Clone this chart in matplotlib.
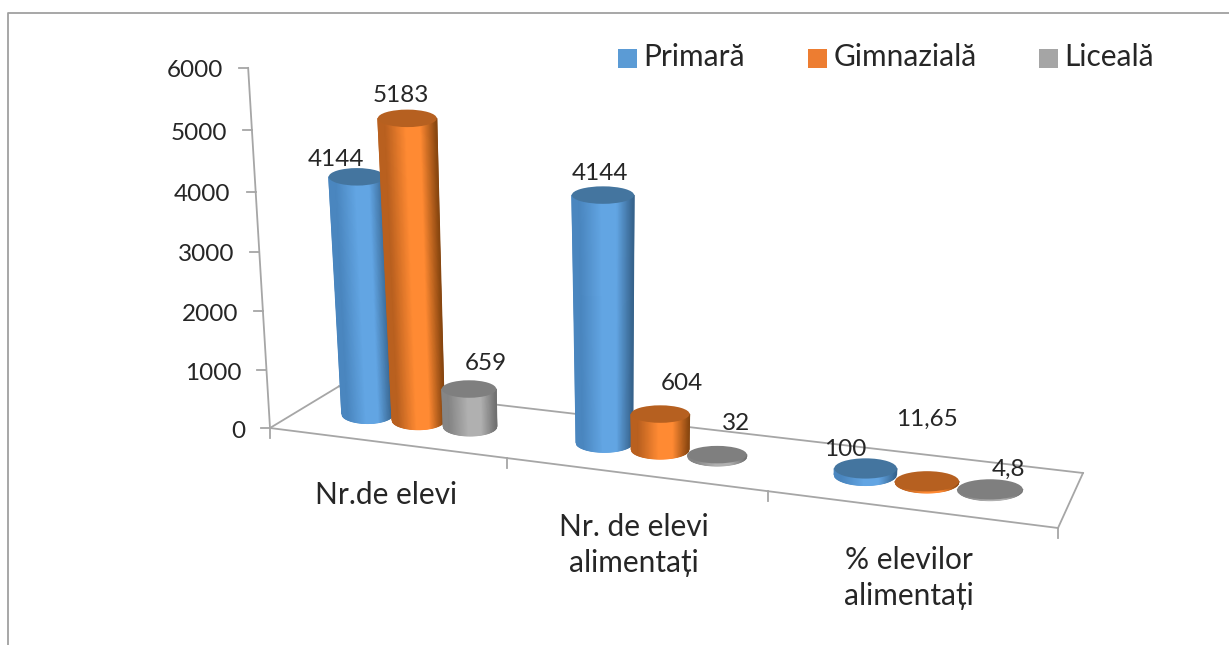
import numpy as np
import matplotlib
matplotlib.use('Agg')
import matplotlib.pyplot as plt
from matplotlib.colors import LinearSegmentedColormap
from matplotlib.patches import Ellipse, Rectangle

# Data
categorii = ['Nr.de elevi', 'Nr. de elevi\nalimentați', '% elevilor\nalimentați']
serii = ['Primară', 'Gimnazială', 'Liceală']
primara = [4144, 4144, 100]
gimnaziala = [5183, 604, 11.65]
liceala = [659, 32, 4.8]
ticks_y = [0, 1000, 2000, 3000, 4000, 5000, 6000]

# Style: left edge, bright, right edge, top cap
culori = [('#4a86bf', '#62a5e3', '#36628b', '#44759f'),
          ('#b9601f', '#ff8a33', '#86450f', '#b66020'),
          ('#858585', '#b0b0b0', '#6f6f6f', '#7f7f7f')]
culori_legenda = ['#5b9bd5', '#ed7d31', '#a5a5a5']
gri = '#a6a6a6'
text_cor = '#262626'
plt.rcParams['font.family'] = ['Lato', 'DejaVu Sans']

# Label centres in pixels, one row per series
pos_etichete = [[(336, 159), (600, 174), (845, 450)],
                [(401, 95), (682, 384), (927, 419)],
                [(486, 364), (736, 423), (1008, 469)]]

# Floor of the 3D box: unit coordinates -> screen pixels
colturi_src = [(0, 0), (3, 0), (3, 1), (0, 1)]
colturi_dst = [(270, 428), (1058, 528), (1083, 473), (339, 386.3)]
A = []
b = []
for (u, v), (x, y) in zip(colturi_src, colturi_dst):
    A.append([u, v, 1, 0, 0, 0, -u * x, -v * x])
    A.append([0, 0, 0, u, v, 1, -u * y, -v * y])
    b += [x, y]
H = np.append(np.linalg.solve(np.array(A, float), np.array(b, float)), 1).reshape(3, 3)


def podea(u, v):
    p = H @ np.array([u, v, 1.0])
    return p[0] / p[2], p[1] / p[2]


def proiectie(u, v, valoare):
    # base on the floor, then go up with a small perspective lean
    x, y = podea(u, v)
    h = (51.7 + 0.0104 * x + 5.8 * (0.5 - v)) * (valoare / 1000) / (1 - 0.00725 * valoare / 1000)
    return x - 1.64e-4 * (640 - x) * h, y - h


def cilindru(ax, u, valoare, cul, zorder):
    bx, by = podea(u, 0.5)
    tx, ty = proiectie(u, 0.5, valoare)
    rx_b = 0.114 * (podea(u + 0.111, 0.5)[0] - podea(u - 0.111, 0.5)[0]) / 0.222
    rx_t = rx_b * (1 + (by - ty) * 0.0004)
    ry = 9.5 + 1.5 * (bx > 800)
    t = np.linspace(-1, 1, 61)
    X = np.vstack([bx + rx_b * t, tx + rx_t * t])
    Y = np.vstack([by + ry * np.sqrt(1 - t * t), np.full_like(t, ty)])
    C = np.vstack([t, t])
    mapa = LinearSegmentedColormap.from_list('cil', [(0, cul[0]), (0.12, cul[0]), (0.47, cul[1]),
                                                     (0.72, cul[1]), (1, cul[2])])
    ax.pcolormesh(X, Y, C, shading='gouraud', cmap=mapa, vmin=-1, vmax=1, zorder=zorder)
    ax.add_patch(Ellipse((tx, ty), 2 * rx_t, 2 * ry * 0.92, fc=cul[3], ec='none', zorder=zorder + 0.5))


fig = plt.figure(figsize=(12.29, 6.45), dpi=100)
ax = fig.add_axes([0, 0, 1, 1])

# Picture frame, only top and left are visible
ax.plot([7.5, 7.5, 1229], [645, 12.5, 12.5], color='#a0a0a0', lw=1.3)

# Floor
for (u0, v0), (u1, v1) in [((0, 0), (3, 0)), ((3, 0), (3, 1)), ((3, 1), (0, 1)), ((0, 1), (0, 0))]:
    x0, y0 = podea(u0, v0)
    x1, y1 = podea(u1, v1)
    ax.plot([x0, x1], [y0, y1], color=gri, lw=1.3, zorder=1)
for u in range(4):
    x0, y0 = podea(u, 0)
    ax.plot([x0, x0], [y0, y0 + 10], color=gri, lw=1.3, zorder=1)

# Value axis
xs = []
ys = []
for val in ticks_y:
    x, y = proiectie(0, 0, val)
    xs.append(x)
    ys.append(y)
    ax.plot([x - 9, x], [y, y], color=gri, lw=1.3, zorder=1)
    ax.text(x - 25, y + 3, str(val), ha='right', va='center', fontsize=17.5, color=text_cor)
ax.plot(xs, ys, color=gri, lw=1.3, zorder=1)

# Cylinders, left to right
zorder = 2
for c in range(len(categorii)):
    for s, valori in enumerate([primara, gimnaziala, liceala]):
        u = c + (1.25 + s) / 4.5
        cilindru(ax, u, valori[c], culori[s], zorder)
        zorder += 1

# Data labels
for s, valori in enumerate([primara, gimnaziala, liceala]):
    for c, val in enumerate(valori):
        x, y = pos_etichete[s][c]
        ax.text(x, y, str(val).replace('.', ','), ha='center', va='center', fontsize=17.5,
                color=text_cor, zorder=50)

# Category labels
pos_categorii = [(386, 495), (634, 545), (908.5, 578)]
for nume, (x, y) in zip(categorii, pos_categorii):
    ax.text(x, y, nume, ha='center', va='center', fontsize=21.5, color=text_cor, linespacing=1.33)

# Legend
pos_legenda = [618, 808, 1039]
for nume, cul, x in zip(serii, culori_legenda, pos_legenda):
    ax.add_patch(Rectangle((x, 49), 18.5, 18.5, fc=cul, ec='none'))
    ax.text(x + 25.5, 66, nume, ha='left', va='baseline', fontsize=21.5, color=text_cor)

# pcolormesh resets the limits, so they are set last
ax.set_xlim(0, 1229)
ax.set_ylim(645, 0)
ax.axis('off')

fig.savefig('out.png', dpi=100)
